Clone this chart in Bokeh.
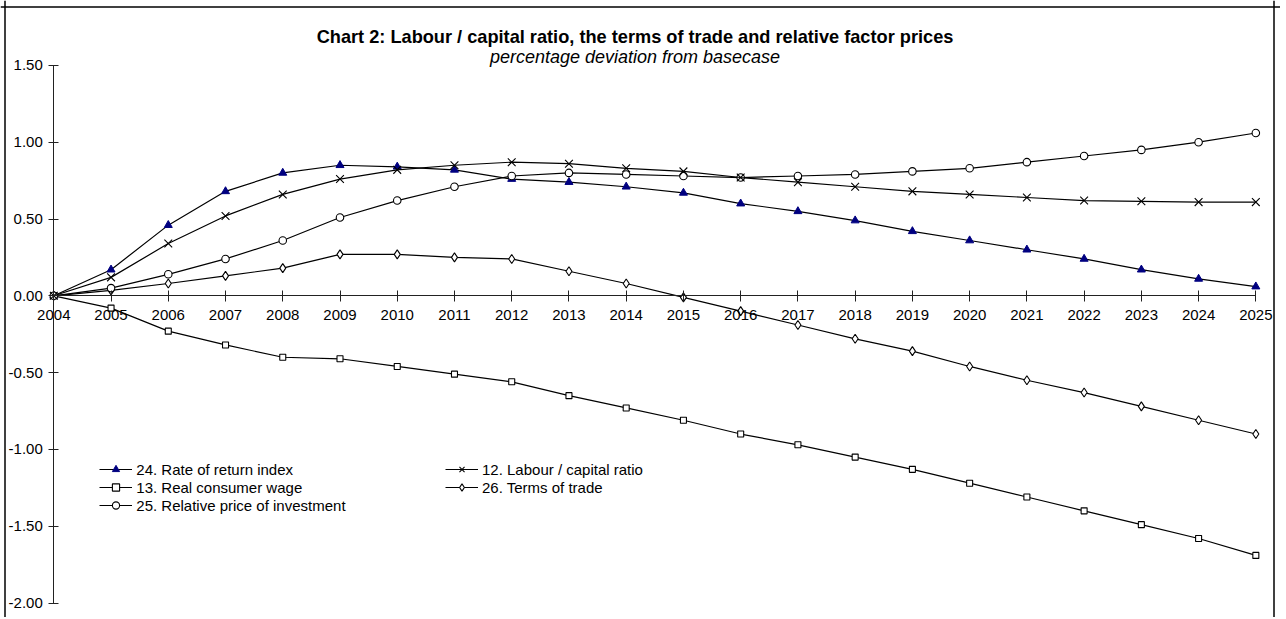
from bokeh.plotting import figure
from bokeh.models import (LinearAxis, FixedTicker, NumeralTickFormatter, BasicTickFormatter,
                          Range1d, Legend, LegendItem, Label, Span)
from bokeh.embed import file_html
from bokeh.resources import INLINE

# ---------------- data ----------------
years = list(range(2004, 2026))
y_ticks = [-2.0, -1.5, -1.0, -0.5, 0.0, 0.5, 1.0, 1.5]

rate_of_return = [0.00, 0.17, 0.46, 0.68, 0.80, 0.85, 0.84, 0.82, 0.76, 0.74, 0.71,
                  0.67, 0.60, 0.55, 0.49, 0.42, 0.36, 0.30, 0.24, 0.17, 0.11, 0.06]
labour_capital = [0.00, 0.12, 0.34, 0.52, 0.66, 0.76, 0.82, 0.85, 0.87, 0.86, 0.83,
                  0.81, 0.77, 0.74, 0.71, 0.68, 0.66, 0.64, 0.62, 0.615, 0.61, 0.61]
real_wage = [0.00, -0.08, -0.23, -0.32, -0.40, -0.41, -0.46, -0.51, -0.56, -0.65, -0.73,
             -0.81, -0.90, -0.97, -1.05, -1.13, -1.22, -1.31, -1.40, -1.49, -1.58, -1.69]
terms_of_trade = [0.00, 0.035, 0.08, 0.13, 0.18, 0.27, 0.27, 0.25, 0.24, 0.16, 0.08,
                  -0.01, -0.10, -0.19, -0.28, -0.36, -0.46, -0.55, -0.63, -0.72, -0.81, -0.90]
rel_price_inv = [0.00, 0.05, 0.14, 0.24, 0.36, 0.51, 0.62, 0.71, 0.78, 0.80, 0.79,
                 0.78, 0.77, 0.78, 0.79, 0.81, 0.83, 0.87, 0.91, 0.95, 1.00, 1.06]

labels = {
    "ror": "24. Rate of return index",
    "lk": "12. Labour / capital ratio",
    "rw": "13. Real consumer wage",
    "tot": "26. Terms of trade",
    "rpi": "25. Relative price of investment",
}
title_text = "Chart 2: Labour / capital ratio, the terms of trade and relative factor prices"
subtitle_text = "percentage deviation from basecase"

# ---------------- layout (canvas pixels) ----------------
W, H = 1280, 617
X_ORIGIN_PX = 53.3        # canvas x of first year
PX_PER_YEAR = 57.24
Y_ZERO_PX = 295.3         # canvas y of value 0
PX_PER_UNIT = 153.6

x_start = years[0] - X_ORIGIN_PX / PX_PER_YEAR
x_end = x_start + W / PX_PER_YEAR
y_end = Y_ZERO_PX / PX_PER_UNIT
y_start = y_end - H / PX_PER_UNIT


def to_data(cx, cy):
    return x_start + cx / PX_PER_YEAR, y_end - cy / PX_PER_UNIT


FONT = "Liberation Sans"

p = figure(width=W, height=H, output_backend="svg", toolbar_location=None,
           x_axis_type=None, y_axis_type=None,
           x_range=Range1d(x_start, x_end), y_range=Range1d(y_start, y_end),
           min_border=0, min_border_left=0, min_border_right=0,
           min_border_top=0, min_border_bottom=0)
p.outline_line_color = None
p.background_fill_color = "white"
p.border_fill_color = "white"

# outer chart border (left, top, right)
bl, bt = to_data(4.5, 6.5)
br, _ = to_data(1273.5, 0)
p.add_layout(Span(location=bl, dimension="height", line_color="black", line_width=1.5))
p.add_layout(Span(location=br, dimension="height", line_color="black", line_width=1.5))
p.add_layout(Span(location=bt, dimension="width", line_color="black", line_width=1.5))

# axes
xaxis = LinearAxis(fixed_location=0, bounds=(years[0], years[-1]),
                   ticker=FixedTicker(ticks=years),
                   formatter=BasicTickFormatter(use_scientific=False))
xaxis.major_tick_in = 5
xaxis.major_tick_out = 6
xaxis.minor_tick_line_color = None
xaxis.major_label_standoff = 8
p.add_layout(xaxis, "below")

yaxis = LinearAxis(fixed_location=years[0], bounds=(y_ticks[0], y_ticks[-1]),
                   ticker=FixedTicker(ticks=y_ticks),
                   formatter=NumeralTickFormatter(format="0.00"))
yaxis.major_tick_in = 5
yaxis.major_tick_out = 5
yaxis.minor_tick_line_color = None
yaxis.major_label_standoff = 6
p.add_layout(yaxis, "left")

for ax in (xaxis, yaxis):
    ax.axis_line_color = "#222222"
    ax.axis_line_width = 1
    ax.major_tick_line_color = "#222222"
    ax.major_label_text_font = FONT
    ax.major_label_text_font_size = "15px"
    ax.major_label_text_color = "black"

# series (plot order: later on top)
LW = 1.2
r = {}
l1 = p.line(years, rate_of_return, line_color="black", line_width=LW)
s1 = p.scatter(years, rate_of_return, marker="triangle", size=8,
               fill_color="#000080", line_color="#000080")
r["ror"] = [l1, s1]

l3 = p.line(years, real_wage, line_color="black", line_width=LW)
s3 = p.scatter(years, real_wage, marker="square", size=6,
               fill_color="white", line_color="black", line_width=1.1)
r["rw"] = [l3, s3]

l4 = p.line(years, terms_of_trade, line_color="black", line_width=LW)
s4 = p.scatter(years, terms_of_trade, marker="diamond", size=9,
               fill_color="white", line_color="black", line_width=1.1)
r["tot"] = [l4, s4]

l5 = p.line(years, rel_price_inv, line_color="black", line_width=LW)
s5 = p.scatter(years, rel_price_inv, marker="circle", size=7.5,
               fill_color="white", line_color="black", line_width=1.1)
r["rpi"] = [l5, s5]

l2 = p.line(years, labour_capital, line_color="black", line_width=LW)
s2 = p.scatter(years, labour_capital, marker="x", size=11,
               line_color="black", line_width=1.1)
r["lk"] = [l2, s2]


def make_legend(keys, left_px, top_px):
    n = len(keys)
    row_h = 18
    loc = (left_px, H - (top_px + n * row_h))
    lg = Legend(items=[LegendItem(label=labels[k], renderers=r[k]) for k in keys],
                location=loc, orientation="vertical")
    lg.glyph_width = 33
    lg.glyph_height = row_h
    lg.label_height = row_h
    lg.label_standoff = 4
    lg.spacing = 0
    lg.padding = 0
    lg.margin = 0
    lg.label_text_font = FONT
    lg.label_text_font_size = "15px"
    lg.label_text_color = "black"
    lg.background_fill_alpha = 0
    lg.border_line_color = None
    return lg


p.add_layout(make_legend(["ror", "rw", "rpi"], 99.3, 460.3), "center")
p.add_layout(make_legend(["lk", "tot"], 445, 460.3), "center")

# titles
tx, ty = to_data(634.5, 36.7)
p.add_layout(Label(x=tx, y=ty, text=title_text, text_align="center", text_baseline="middle",
                   text_font=FONT, text_font_size="18.2px", text_font_style="bold",
                   text_color="black"))
sx, sy = to_data(634.5, 56.7)
p.add_layout(Label(x=sx, y=sy, text=subtitle_text, text_align="center", text_baseline="middle",
                   text_font=FONT, text_font_size="18px", text_font_style="italic",
                   text_color="black"))

open("out.html", "w").write(file_html(p, INLINE))
